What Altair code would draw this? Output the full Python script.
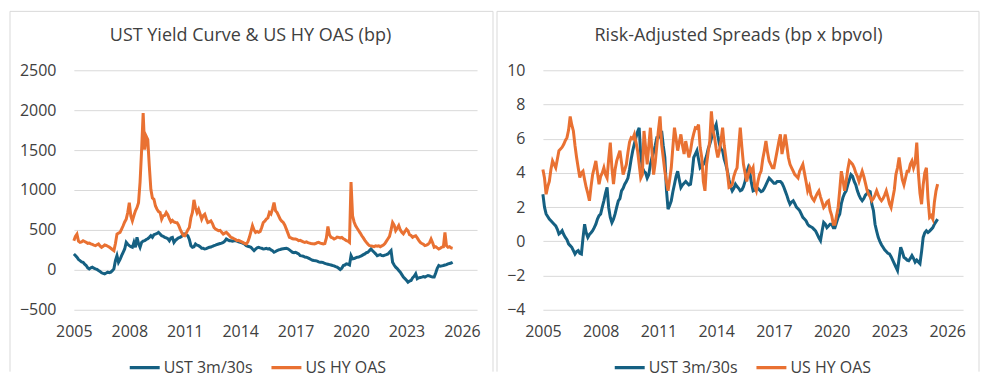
import altair as alt
import pandas as pd

# ---------------- data (monthly) ----------------
SERIES = ["UST 3m/30s", "US HY OAS"]
COLORS = ["#156082", "#E97132"]
YEAR_TICKS = [2005, 2008, 2011, 2014, 2017, 2020, 2023, 2026]

ust_curve_bp = [
    199, 180, 158, 130, 116, 100, 95, 70, 54, 25, 12, 25,            # 2005
    33, 20, 12, 5, -8, -20, -37, -45, -50, -40, -29, -35,             # 2006
    -29, -10, 12, 116, 178, 95, 130, 178, 220, 261, 344, 320,         # 2007
    303, 290, 282, 344, 282, 407, 330, 282, 344, 360, 365, 380,       # 2008
    390, 407, 427, 407, 440, 448, 455, 469, 450, 427, 420, 407,       # 2009
    400, 390, 365, 400, 407, 344, 370, 386, 400, 407, 420, 448,       # 2010
    448, 440, 427, 380, 303, 282, 290, 324, 310, 303, 290, 270,       # 2011
    270, 261, 265, 275, 282, 285, 295, 303, 310, 318, 324, 330,       # 2012
    335, 344, 360, 386, 375, 365, 365, 360, 365, 365, 360, 350,       # 2013
    344, 340, 330, 320, 303, 295, 290, 282, 260, 241, 260, 275,       # 2014
    282, 275, 270, 261, 265, 270, 261, 265, 250, 240, 220, 230,       # 2015
    242, 250, 255, 261, 265, 268, 270, 263, 250, 235, 220, 215,       # 2016
    220, 210, 200, 178, 175, 170, 160, 158, 150, 140, 130, 120,       # 2017
    116, 115, 110, 100, 95, 95, 90, 80, 75, 70, 65, 60,               # 2018
    54, 50, 40, 33, 20, 4, 20, 54, 60, 75, 70, 60,                    # 2019
    178, 137, 140, 150, 158, 160, 170, 178, 190, 200, 215, 220,       # 2020
    241, 261, 240, 220, 200, 178, 185, 190, 180, 178, 185, 190,       # 2021
    199, 220, 241, 95, 60, 33, 15, -8, -30, -60, -91, -110,           # 2022
    -130, -154, -140, -133, -100, -80, -50, -112, -100, -95, -91, -85,  # 2023
    -91, -80, -71, -75, -85, -91, -91, -40, 20, 54, 45, 50,           # 2024
    54, 60, 65, 75, 80, 85, 95,                                       # 2025
]

hy_oas_bp = [
    365, 420, 448, 360, 345, 350, 365, 355, 345, 332, 335, 325,       # 2005
    318, 310, 303, 315, 324, 300, 282, 295, 311, 305, 295, 285,       # 2006
    270, 255, 241, 330, 448, 460, 469, 510, 552, 600, 635, 718,       # 2007
    842, 676, 614, 680, 739, 780, 842, 1100, 1500, 1963, 1506, 1672,  # 2008
    1631, 1300, 1008, 900, 884, 800, 759, 730, 718, 635, 676, 680,    # 2009
    718, 690, 640, 600, 620, 600, 593, 590, 560, 510, 470, 430,       # 2010
    427, 460, 500, 531, 650, 718, 876, 780, 718, 759, 700, 635,       # 2011
    680, 697, 640, 593, 600, 614, 580, 530, 510, 500, 490, 495,       # 2012
    470, 448, 460, 469, 450, 430, 407, 400, 390, 380, 365, 370,       # 2013
    360, 350, 340, 330, 324, 350, 407, 480, 552, 500, 469, 480,       # 2014
    469, 480, 530, 593, 610, 635, 650, 718, 700, 760, 842, 740,       # 2015
    718, 676, 635, 610, 593, 560, 510, 460, 407, 400, 390, 386,       # 2016
    386, 380, 365, 370, 360, 350, 344, 350, 340, 335, 330, 328,       # 2017
    324, 330, 340, 344, 335, 330, 324, 330, 400, 544, 440, 407,       # 2018
    400, 386, 395, 410, 407, 400, 407, 390, 380, 365, 360, 344,       # 2019
    1100, 676, 600, 552, 520, 490, 460, 427, 400, 370, 344, 320,      # 2020
    303, 300, 295, 290, 300, 295, 300, 290, 300, 310, 330, 360,       # 2021
    390, 420, 500, 593, 560, 490, 520, 555, 500, 470, 450, 480,       # 2022
    510, 490, 440, 430, 407, 420, 427, 400, 370, 344, 330, 320,       # 2023
    303, 310, 320, 340, 386, 340, 282, 290, 275, 261, 270, 285,       # 2024
    290, 469, 300, 282, 290, 275, 270,                                # 2025
]

ust_risk_adj = [
    2.75, 2.0, 1.6, 1.45, 1.3, 1.2, 1.1, 1.0, 0.9, 0.7, 0.43, 0.5,          # 2005
    0.62, 0.4, 0.23, 0.1, -0.15, -0.25, -0.35, -0.55, -0.74, -0.6, -0.54, -0.7,  # 2006
    -0.74, 0.2, 1.0, 0.5, 0.23, 0.4, 0.5, 0.62, 0.8, 1.0, 1.3, 1.5,         # 2007
    1.6, 2.0, 2.37, 2.8, 3.15, 1.98, 1.4, 1.1, 1.3, 1.6, 2.0, 2.37,         # 2008
    2.5, 2.95, 3.1, 3.34, 3.5, 3.7, 4.2, 4.8, 5.3, 5.7, 6.06, 6.4,          # 2009
    6.64, 5.0, 4.3, 4.1, 4.0, 3.7, 3.9, 4.5, 4.9, 5.2, 5.6, 6.06,           # 2010
    6.06, 6.2, 6.45, 5.6, 4.9, 3.0, 1.88, 2.1, 2.37, 2.9, 3.34, 3.8,        # 2011
    4.1, 3.6, 3.15, 3.3, 3.4, 3.5, 3.4, 3.3, 3.34, 4.0, 4.9, 5.1,           # 2012
    5.3, 4.8, 4.3, 4.4, 4.5, 4.7, 5.0, 5.4, 5.67, 6.0, 6.45, 6.6,           # 2013
    6.83, 6.2, 5.67, 5.4, 5.3, 4.8, 4.5, 4.1, 3.6, 3.2, 2.95, 3.1,          # 2014
    3.34, 3.2, 3.1, 2.95, 3.0, 3.2, 3.5, 4.0, 4.3, 4.0, 3.4, 2.95,          # 2015
    3.0, 3.15, 3.1, 3.0, 2.9, 2.95, 3.1, 3.3, 3.5, 3.7, 3.6, 3.5,           # 2016
    3.4, 3.4, 3.5, 3.5, 3.5, 3.4, 3.2, 2.95, 2.7, 2.4, 2.17, 2.3,           # 2017
    2.37, 2.2, 2.0, 1.9, 1.8, 1.6, 1.4, 1.3, 1.2, 1.0, 0.9, 0.85,           # 2018
    0.8, 0.7, 0.6, 0.4, 0.2, 0.04, 0.6, 1.1, 1.0, 0.8, 0.9, 1.0,            # 2019
    1.0, 0.8, 0.8, 1.1, 1.4, 1.6, 2.2, 2.56, 2.8, 2.95, 3.3, 3.6,           # 2020
    3.9, 3.8, 3.5, 3.3, 2.95, 2.7, 2.5, 2.37, 2.5, 2.7, 2.8, 2.95,          # 2021
    2.9, 2.17, 1.8, 1.0, 0.6, 0.23, 0.0, -0.2, -0.35, -0.5, -0.6, -0.7,     # 2022
    -0.74, -0.9, -1.1, -1.3, -1.5, -1.7, -1.0, -0.35, -0.6, -0.93, -1.0, -1.1,  # 2023
    -1.13, -1.0, -0.83, -1.0, -1.22, -1.1, -1.2, -1.3, -0.6, 0.23, 0.5, 0.62,   # 2024
    0.52, 0.6, 0.7, 0.8, 1.0, 1.15, 1.3,                                    # 2025
]

hy_risk_adj = [
    4.2, 3.7, 2.75, 3.2, 3.5, 4.2, 4.7, 4.5, 4.3, 4.8, 5.3, 5.4,            # 2005
    5.5, 5.67, 5.9, 6.06, 6.5, 7.3, 6.8, 6.45, 5.6, 4.9, 4.3, 3.73,         # 2006
    4.0, 4.1, 3.6, 3.15, 2.8, 2.37, 3.2, 3.9, 4.3, 4.7, 4.0, 3.34,          # 2007
    3.8, 4.0, 4.3, 3.9, 3.7, 4.8, 5.77, 4.3, 3.34, 4.2, 4.7, 5.0,           # 2008
    5.3, 4.6, 3.9, 4.2, 4.5, 5.2, 5.8, 6.06, 6.0, 6.25, 5.8, 5.3,           # 2009
    4.5, 3.7, 3.9, 6.45, 5.5, 4.5, 5.6, 6.64, 5.2, 3.9, 4.6, 5.6,           # 2010
    6.5, 7.3, 5.67, 4.9, 4.1, 3.5, 2.95, 3.6, 4.3, 5.5, 6.64, 6.0,          # 2011
    5.3, 5.8, 6.25, 5.6, 5.1, 5.86, 5.4, 4.9, 5.3, 5.9, 6.3, 6.64,          # 2012
    6.6, 6.83, 5.5, 4.9, 3.5, 2.95, 4.5, 5.2, 5.86, 7.6, 6.5, 6.06,         # 2013
    5.4, 4.9, 5.3, 5.9, 6.64, 5.6, 4.9, 4.0, 3.15, 3.2, 3.34, 3.8,          # 2014
    4.1, 4.3, 5.5, 6.64, 5.5, 4.5, 4.0, 3.5, 3.9, 4.3, 4.1, 4.3,            # 2015
    3.2, 2.95, 3.5, 3.9, 4.1, 4.8, 5.3, 5.86, 5.2, 4.7, 4.5, 4.3,           # 2016
    4.3, 4.8, 5.3, 5.8, 6.25, 5.1, 5.6, 6.25, 5.6, 4.9, 4.5, 4.3,           # 2017
    4.1, 3.9, 3.8, 3.7, 4.1, 4.3, 4.5, 4.0, 3.5, 2.95, 3.2, 2.7,            # 2018
    2.5, 2.37, 2.6, 2.8, 2.95, 2.6, 2.3, 1.98, 2.1, 2.3, 2.37, 1.8,         # 2019
    1.5, 1.0, 1.0, 1.5, 1.98, 3.0, 4.1, 3.6, 2.95, 3.5, 4.2, 4.7,           # 2020
    4.6, 4.5, 4.3, 4.0, 3.8, 3.5, 3.8, 4.1, 3.8, 3.4, 3.0, 2.75,            # 2021
    2.6, 2.37, 2.5, 2.7, 2.95, 2.7, 2.5, 2.37, 2.5, 2.7, 2.95, 2.6,         # 2022
    2.2, 1.98, 2.5, 3.0, 3.9, 4.3, 4.9, 4.2, 3.6, 3.3, 3.7, 4.1,            # 2023
    4.1, 4.5, 4.7, 4.3, 4.6, 5.77, 4.0, 2.8, 2.17, 3.3, 4.0, 4.3,           # 2024
    2.5, 1.4, 1.5, 1.3, 2.3, 2.95, 3.34,                                    # 2025
]

months = pd.date_range("2005-01-01", periods=len(hy_oas_bp), freq="MS")
year_frac = [d.year + (d.month - 1) / 12 for d in months]


def long_frame(a, b):
    return pd.DataFrame({
        "year": year_frac * 2,
        "series": [SERIES[0]] * len(a) + [SERIES[1]] * len(b),
        "value": list(a) + list(b),
    })


left_df = long_frame(ust_curve_bp, hy_oas_bp)
right_df = long_frame(ust_risk_adj, hy_risk_adj)

FONT = "Open Sans"
TXT = "#404040"
BOX = "#d9d9d9"


def panel(df, ydom, yticks, title, w, h, box_l, box_r, title_x, legend_x):
    color = alt.Color(
        "series:N",
        scale=alt.Scale(domain=SERIES, range=COLORS),
        legend=alt.Legend(
            orient="none", legendX=legend_x, legendY=h + 48, direction="horizontal",
            title=None, symbolType="stroke", symbolStrokeWidth=3.2, symbolSize=900,
            clipHeight=20,
            labelFontSize=16, labelFont=FONT, labelColor=TXT, columnPadding=16,
            labelOffset=2, labelLimit=0,
        ),
    )
    base = alt.Chart(df).encode(
        x=alt.X("year:Q",
                scale=alt.Scale(domain=[2005, 2026.82], nice=False, zero=False),
                axis=alt.Axis(values=YEAR_TICKS, format="d", grid=False, domain=False,
                              ticks=False, labelPadding=14, labelFlush=False,
                              labelOverlap=False, title=None,
                              labelFont=FONT, labelFontSize=16, labelColor=TXT)),
        y=alt.Y("value:Q",
                scale=alt.Scale(domain=ydom, nice=False, zero=False),
                axis=alt.Axis(values=yticks, format="d", grid=True, domain=False,
                              ticks=False, labelPadding=18, title=None,
                              gridColor=BOX, gridWidth=1,
                              labelFont=FONT, labelFontSize=16, labelColor=TXT)),
        color=color,
    )
    ust = base.transform_filter(alt.datum.series == SERIES[0]).mark_line(strokeWidth=3)
    hy = base.transform_filter(alt.datum.series == SERIES[1]).mark_line(strokeWidth=3)

    one = alt.Data(values=[{}])
    ttl = alt.Chart(one).mark_text(font=FONT, fontSize=18, color=TXT, baseline="middle",
                                   align="center").encode(
        x=alt.value(title_x), y=alt.value(-34), text=alt.value(title))
    box_top = alt.Chart(one).mark_rule(color=BOX, strokeWidth=1).encode(
        x=alt.value(box_l), x2=alt.value(box_r), y=alt.value(-59))
    box_left = alt.Chart(one).mark_rule(color=BOX, strokeWidth=1).encode(
        x=alt.value(box_l), y=alt.value(-59), y2=alt.value(h + 62))
    box_right = alt.Chart(one).mark_rule(color=BOX, strokeWidth=1).encode(
        x=alt.value(box_r), y=alt.value(-59), y2=alt.value(h + 62))
    return alt.layer(box_top, box_left, box_right, ttl, ust, hy).properties(width=w, height=h)


left = panel(left_df, [-500, 2500], [-500, 0, 500, 1000, 1500, 2000, 2500],
             "UST Yield Curve & US HY OAS (bp)", 404, 240, -64, 420, 177, 54)
right = panel(right_df, [-4, 10], [-4, -2, 0, 2, 4, 6, 8, 10],
              "Risk-Adjusted Spreads (bp x bpvol)", 421, 240, -46, 437, 196, 70)

chart = alt.hconcat(left, right, spacing=2).resolve_scale(
    color="independent", x="independent", y="independent"
).resolve_legend(color="independent").properties(
    padding={"left": 1, "top": 2, "right": 0, "bottom": 0},
    background="white",
).configure_view(stroke=None)

chart.save("out.html", embed_options={"renderer": "svg", "actions": False})
